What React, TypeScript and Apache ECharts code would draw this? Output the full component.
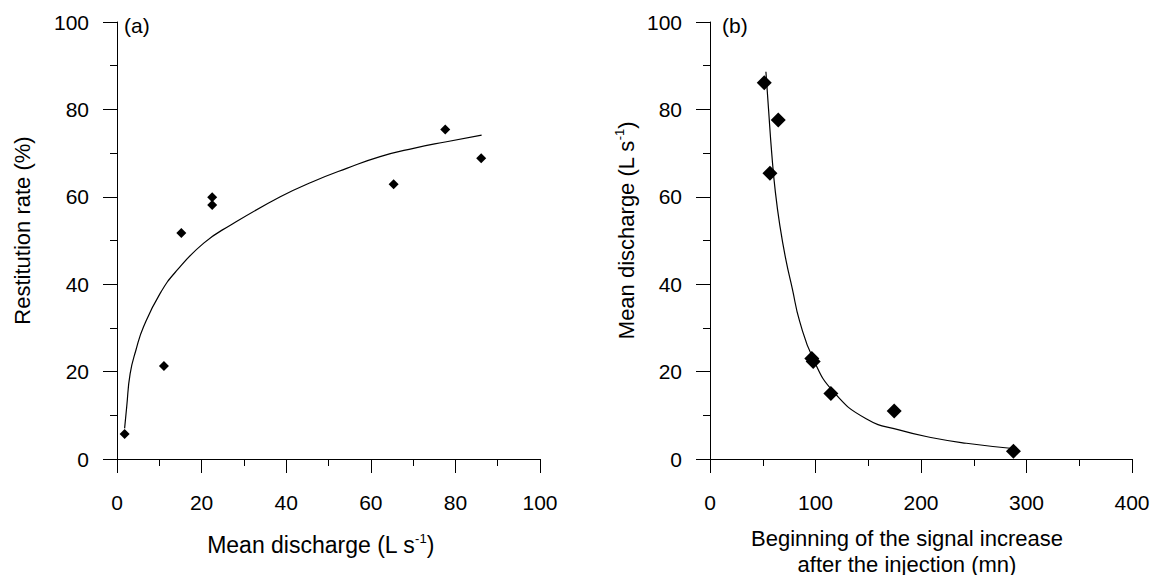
import React, { useEffect, useRef } from "react";
import * as echarts from "echarts";

// Panel (a): restitution rate vs mean discharge
const aDischarge = [1.8, 11.1, 15.2, 22.5, 22.5, 65.4, 77.6, 86.1];
const aRestitution = [5.7, 21.3, 51.7, 59.9, 58.1, 62.9, 75.4, 68.8];
const aFitX = [1.8, 2.3, 3.1, 4.5, 6.3, 10.2, 14.2, 20.5, 26.8, 38.6, 46.4, 54.3, 62.2, 70.1, 77.9, 86.2];
const aFitY = [7, 12, 19.5, 25, 30.3, 37.9, 43.2, 49.4, 53.5, 60, 63.5, 66.5, 69.2, 71.1, 72.6, 74.1];

// Panel (b): mean discharge vs beginning of signal increase
const bTime = [51.4, 56.8, 64.7, 96.5, 97.8, 114.6, 174.6, 287.6];
const bDischarge = [86.1, 65.4, 77.6, 23.0, 22.3, 15.0, 11.0, 1.8];
const bFitX = [53, 55.5, 58.5, 62, 66.5, 72, 78, 85, 98, 117, 148, 180, 212, 243, 287];
const bFitY = [88.6, 80, 70, 61, 53, 45.5, 39, 31.5, 22.8, 15.4, 9.2, 6.6, 4.8, 3.6, 2.4];

const aXTicks = [0, 20, 40, 60, 80, 100];
const bXTicks = [0, 100, 200, 300, 400];
const yTicks = [0, 20, 40, 60, 80, 100];

const FONT = "'Liberation Sans', Arial, sans-serif";
const INK = "#000";

const zip = (xs: number[], ys: number[]) => xs.map((x, i) => [x, ys[i]]);

const richTitle = {
  n: { fontSize: 23, lineHeight: 26, color: INK, fontFamily: FONT },
  sup: { fontSize: 13, lineHeight: 14, verticalAlign: "top", color: INK, fontFamily: FONT },
};
const richTitleY = {
  n: { fontSize: 22, lineHeight: 26, color: INK, fontFamily: FONT },
  sup: { fontSize: 13, lineHeight: 14, verticalAlign: "top", color: INK, fontFamily: FONT },
};

function axisCommon(ticks: number[]) {
  const interval = ticks[1] - ticks[0];
  return {
    type: "value",
    min: ticks[0],
    max: ticks[ticks.length - 1],
    interval,
    axisLine: { show: true, lineStyle: { color: INK, width: 1 } },
    axisTick: { show: true, inside: false, length: 14, lineStyle: { color: INK, width: 1 } },
    minorTick: { show: true, splitNumber: 2, length: 7, lineStyle: { color: INK, width: 1 } },
    splitLine: { show: false },
    minorSplitLine: { show: false },
    axisLabel: { color: INK, fontSize: 21, fontFamily: FONT },
  };
}

export default function App() {
  const ref = useRef<HTMLDivElement>(null);
  useEffect(() => {
    if (!ref.current) return;
    const chart = echarts.init(ref.current, undefined, { renderer: "svg" });
    const ax0 = axisCommon(aXTicks);
    const bx0 = axisCommon(bXTicks);
    const y0 = axisCommon(yTicks);
    chart.setOption({
      animation: false,
      backgroundColor: "#fff",
      grid: [
        { left: 117, right: 618, top: 22, bottom: 124, containLabel: false, outerBoundsMode: "none" },
        { left: 710, right: 26, top: 22, bottom: 124, containLabel: false, outerBoundsMode: "none" },
      ],
      xAxis: [
        {
          ...ax0,
          gridIndex: 0,
          axisLabel: { ...ax0.axisLabel, margin: 33 },
          name: "{n|Mean discharge (L s}{sup|-1}{n|)}",
          nameLocation: "middle",
          nameGap: 73,
          nameTextStyle: { rich: richTitle, padding: [0, 16, 0, 0] },
        },
        {
          ...bx0,
          gridIndex: 1,
          axisLabel: { ...bx0.axisLabel, margin: 33 },
          name: "Beginning of the signal increase\nafter the injection (mn)",
          nameLocation: "middle",
          nameGap: 66,
          nameTextStyle: {
            color: INK,
            fontSize: 22,
            fontFamily: FONT,
            lineHeight: 26,
            padding: [0, 28, 0, 0],
          },
        },
      ],
      yAxis: [
        {
          ...y0,
          gridIndex: 0,
          axisLabel: { ...y0.axisLabel, margin: 28 },
          name: "Restitution rate (%)",
          nameLocation: "middle",
          nameGap: 82,
          nameTextStyle: {
            color: INK,
            fontSize: 22,
            fontFamily: FONT,
            lineHeight: 26,
            padding: [0, 0, 0, 20],
          },
        },
        {
          ...y0,
          gridIndex: 1,
          axisLabel: { ...y0.axisLabel, margin: 28 },
          name: "{n|Mean discharge (L s}{sup|-1}{n|)}",
          nameLocation: "middle",
          nameGap: 71,
          nameTextStyle: { rich: richTitleY, padding: [0, 0, 0, 20] },
        },
      ],
      graphic: [
        { type: "text", left: 124, top: 15, style: { text: "(a)", fontSize: 21, fontFamily: FONT, fill: INK } },
        { type: "text", left: 722, top: 15, style: { text: "(b)", fontSize: 21, fontFamily: FONT, fill: INK } },
      ],
      series: [
        {
          type: "line",
          xAxisIndex: 0,
          yAxisIndex: 0,
          data: zip(aFitX, aFitY),
          smooth: 0.5,
          showSymbol: false,
          lineStyle: { color: INK, width: 1.2 },
          z: 2,
        },
        {
          type: "scatter",
          xAxisIndex: 0,
          yAxisIndex: 0,
          data: zip(aDischarge, aRestitution),
          symbol: "diamond",
          symbolSize: 10,
          itemStyle: { color: INK, opacity: 1 },
          z: 3,
        },
        {
          type: "line",
          xAxisIndex: 1,
          yAxisIndex: 1,
          data: zip(bFitX, bFitY),
          smooth: 0.5,
          showSymbol: false,
          lineStyle: { color: INK, width: 1.2 },
          z: 2,
        },
        {
          type: "scatter",
          xAxisIndex: 1,
          yAxisIndex: 1,
          data: zip(bTime, bDischarge),
          symbol: "diamond",
          symbolSize: 15,
          itemStyle: { color: INK, opacity: 1 },
          z: 3,
        },
      ],
    });
    return () => chart.dispose();
  }, []);
  return <div ref={ref} style={{ width: 1158, height: 583, margin: -8 }} />;
}
